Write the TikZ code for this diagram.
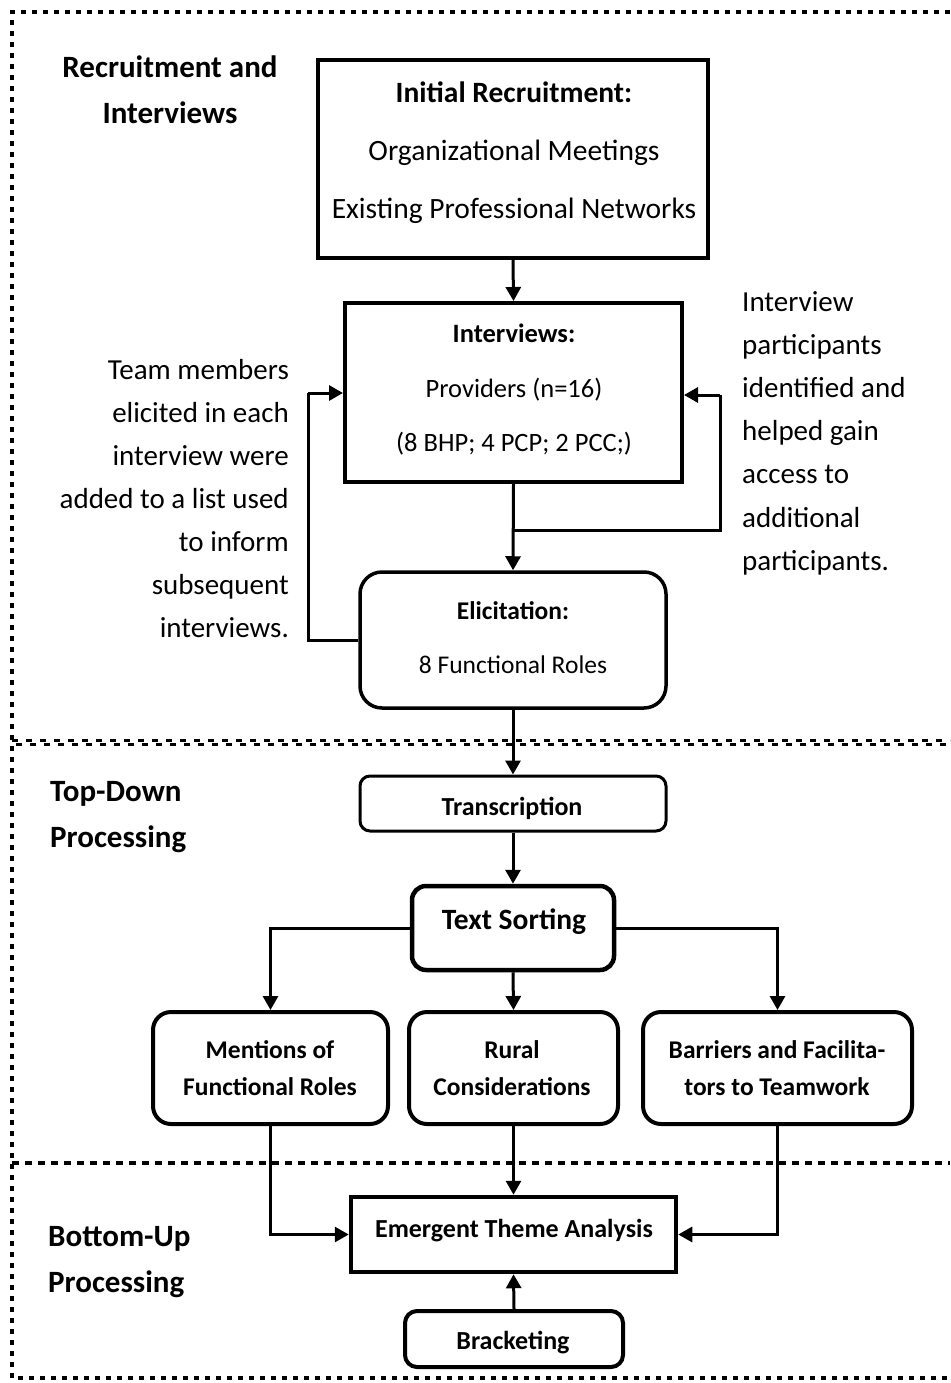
\documentclass[tikz,border=0pt]{standalone}
\usepackage{fontspec}
\setmainfont{Carlito}
\usetikzlibrary{arrows.meta}
\newcommand\fsz[2]{\fontsize{#1}{#2}\selectfont}

\begin{document}
\begin{tikzpicture}[x=1pt,y=-1pt,
  every node/.style={inner sep=0pt},
  sqbox/.style={draw, line width=4pt, rectangle},
  rbox/.style={draw, line width=4pt, rectangle, rounded corners=16pt},
  txt/.style={align=center, text=black},
  arr/.style={line width=3pt, -{Triangle[length=14pt,width=15pt]}},
  link/.style={line width=3pt},
  frame/.style={line width=4.5pt, dash pattern=on 5pt off 6pt},
  section/.style={align=left, font=\bfseries\fsz{31}{46}},
]
\useasboundingbox (0,0) rectangle (950,1383);

% outer dotted frame (open on the right)
\draw[frame] (950,12) -- (12,12) -- (12,1378) -- (950,1378);

% divider between recruitment and top-down processing
\draw[line width=3pt, dash pattern=on 6pt off 8pt] (12,740.5) -- (950,740.5);
\draw[line width=3pt, dash pattern=on 6pt off 8pt, dash phase=10pt] (12,744) -- (950,744);
% divider between top-down and bottom-up processing
\draw[line width=3.5pt, dash pattern=on 7pt off 6pt] (12,1163) -- (950,1163);

% section titles
\node[section, align=center] (secA) at (170,90) {Recruitment and\\Interviews};
\node[section, anchor=west] (secB) at (50,817) {Top-Down\\Processing};
\node[section, anchor=west] (secC) at (48,1262) {Bottom-Up\\Processing};

% recruitment stage
\node[sqbox, minimum width=390pt, minimum height=198pt] (init) at (513,159) {};
\node[txt, font=\fsz{29.5}{58}] (initT) at (514,152.5)
  {\textbf{Initial Recruitment:}\\Organizational Meetings\\Existing Professional Networks};

\node[sqbox, minimum width=337pt, minimum height=179pt] (interv) at (513.5,392.5) {};
\node[txt, font=\fsz{26.5}{54.5}] (intervT) at (514,390)
  {\textbf{Interviews:}\\Providers (n=16)\\(8 BHP; 4 PCP; 2 PCC;)};

\node[rbox, line width=3.5pt, rounded corners=22pt, minimum width=306pt, minimum height=136pt] (elic) at (513,640) {};
\node[txt, font=\fsz{25.5}{54}] (elicT) at (513,638)
  {\textbf{Elicitation:}\\8 Functional Roles};

% side notes
\node[align=right, anchor=east, font=\fsz{29}{43}] (noteL) at (289,499)
  {Team members\\elicited in each\\interview were\\added to a list used\\to inform\\subsequent\\interviews.};
\node[align=left, anchor=west, font=\fsz{29}{43.2}] (noteR) at (742,433)
  {Interview\\participants\\identified and\\helped gain\\access to\\additional\\participants.};

% top-down processing
\node[rbox, line width=3pt, rounded corners=10pt, minimum width=306pt, minimum height=55pt] (trans) at (513,803.5) {};
\node[txt, font=\bfseries\fsz{26}{30}] (transT) at (512,808) {Transcription};

\node[rbox, line width=4.5pt, rounded corners=14pt, minimum width=202pt, minimum height=84pt] (sort) at (513,928) {};
\node[txt, font=\bfseries\fsz{29.5}{34}] (sortT) at (514,922) {Text Sorting};

\node[rbox, rounded corners=18pt, minimum width=235pt, minimum height=112pt] (ment) at (270.5,1068) {};
\node[txt, font=\bfseries\fsz{25.5}{37}] (mentT) at (270,1068) {Mentions of\\Functional Roles};

\node[rbox, rounded corners=18pt, minimum width=209pt, minimum height=112pt] (rural) at (513.5,1068) {};
\node[txt, font=\bfseries\fsz{25.5}{37}] (ruralT) at (512,1068) {Rural\\Considerations};

\node[rbox, rounded corners=18pt, minimum width=269pt, minimum height=112pt] (barr) at (777.5,1068) {};
\node[txt, font=\bfseries\fsz{25.5}{37}] (barrT) at (777,1068) {Barriers and Facilita-\\tors to Teamwork};

% bottom-up processing
\node[sqbox, line width=4.5pt, minimum width=325pt, minimum height=75pt] (emerg) at (513.5,1234.5) {};
\node[txt, font=\bfseries\fsz{26}{30}] (emergT) at (514,1231) {Emergent Theme Analysis};

\node[rbox, rounded corners=12pt, minimum width=218pt, minimum height=56pt] (brack) at (514,1339) {};
\node[txt, font=\bfseries\fsz{26}{30}] (brackT) at (513,1343) {Bracketing};

% connectors
\draw[arr] (init.south) -- (interv.north);
\draw[arr] (interv.south) -- (elic.north);

\coordinate (rj) at (513,530);
\coordinate (rc) at (720,395);
\draw[link] (rj) -| (rc);
\draw[arr] (rc) -- (rc -| interv.east);

\coordinate (lc) at (308,393);
\draw[link] (elic.west) -| (lc);
\draw[arr] (lc) -- (lc -| interv.west);

\draw[arr] (elic.south) -- (trans.north);
\draw[arr] (trans.south) -- (sort.north);
\draw[arr] (sort.south) -- (rural.north);
\draw[arr] (sort.west) -| (ment.north);
\draw[arr] (sort.east) -| (barr.north);

\draw[arr] (ment.south) |- (emerg.west);
\draw[arr] (rural.south) -- (emerg.north);
\draw[arr] (barr.south) |- (emerg.east);
\draw[arr] (brack.north) -- (emerg.south);
\end{tikzpicture}
\end{document}
